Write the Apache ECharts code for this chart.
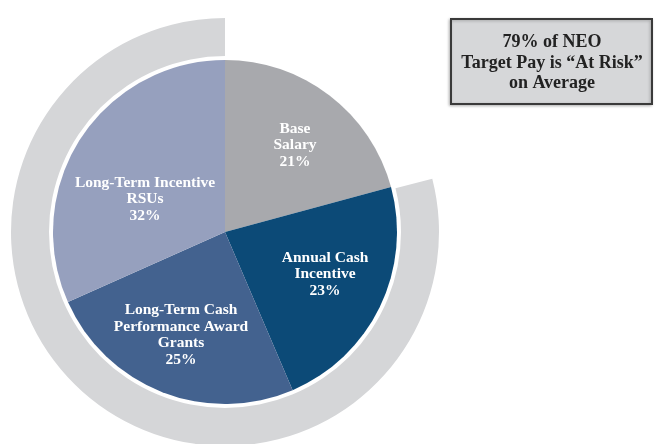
<!DOCTYPE html>
<html>
<head>
<meta charset="utf-8">
<script src="https://cdn.jsdelivr.net/npm/echarts@6/dist/echarts.min.js"></script>
<style>html,body{margin:0;padding:0;background:#fff;}#c{width:656px;height:444px;}</style>
</head>
<body>
<div id="c"></div>
<script>
const categories = ['Base\nSalary', 'Annual Cash\nIncentive', 'Long-Term Cash\nPerformance Award\nGrants', 'Long-Term Incentive\nRSUs'];
const values = [21, 23, 25, 32];
const sliceColors = ['#a8a9ad', '#0c4a77', '#43628f', '#96a0be'];
const ringNames = ['Fixed', 'At Risk'];
const ringValues = [21, 79];
const boxLines = ['79% of NEO', 'Target Pay is \u201CAt Risk\u201D', 'on Average'];

const labelPos = [[295, 145], [325, 274], [181, 335], [145, 199]];

const chart = echarts.init(document.getElementById('c'), null, {renderer: 'canvas'});
chart.setOption({
  backgroundColor: '#ffffff',
  animation: false,
  series: [
    {
      type: 'pie',
      silent: true,
      center: [225, 232],
      radius: [176, 214],
      startAngle: 90,
      clockwise: true,
      label: {show: false},
      labelLine: {show: false},
      data: ringNames.map((n, i) => ({
        name: n, value: ringValues[i],
        itemStyle: {color: i === 0 ? 'rgba(0,0,0,0)' : '#d5d6d8'}
      }))
    },
    {
      type: 'pie',
      silent: true,
      center: [225, 232],
      radius: [0, 172],
      startAngle: 90,
      clockwise: true,
      itemStyle: {borderWidth: 0},
      label: {
        show: true,
        position: 'inside',
        formatter: '{b}\n{c}%',
        color: '#ffffff',
        fontFamily: 'Liberation Serif',
        fontWeight: 'bold',
        fontSize: 15.5,
        lineHeight: 16.5,
        align: 'center'
      },
      labelLine: {show: false},
      labelLayout: function (p) {
        const pos = labelPos[p.dataIndex];
        return {x: pos[0], y: pos[1], align: 'center', verticalAlign: 'middle'};
      },
      data: categories.map((c, i) => ({name: c, value: values[i], itemStyle: {color: sliceColors[i]}}))
    }
  ],
  graphic: [
    {
      type: 'rect',
      shape: {x: 451, y: 19, width: 201, height: 85},
      style: {fill: '#d6d7d9', stroke: '#3a3a3a', lineWidth: 2,
        shadowColor: 'rgba(0,0,0,0.25)', shadowBlur: 3, shadowOffsetX: -1, shadowOffsetY: 1}
    },
    {
      type: 'text',
      x: 552, y: 63,
      style: {
        text: boxLines.join('\n'),
        fill: '#222222',
        font: 'bold 18px "Liberation Serif"',
        lineHeight: 20.5,
        align: 'center',
        verticalAlign: 'middle'
      }
    }
  ]
});
</script>
</body>
</html>
